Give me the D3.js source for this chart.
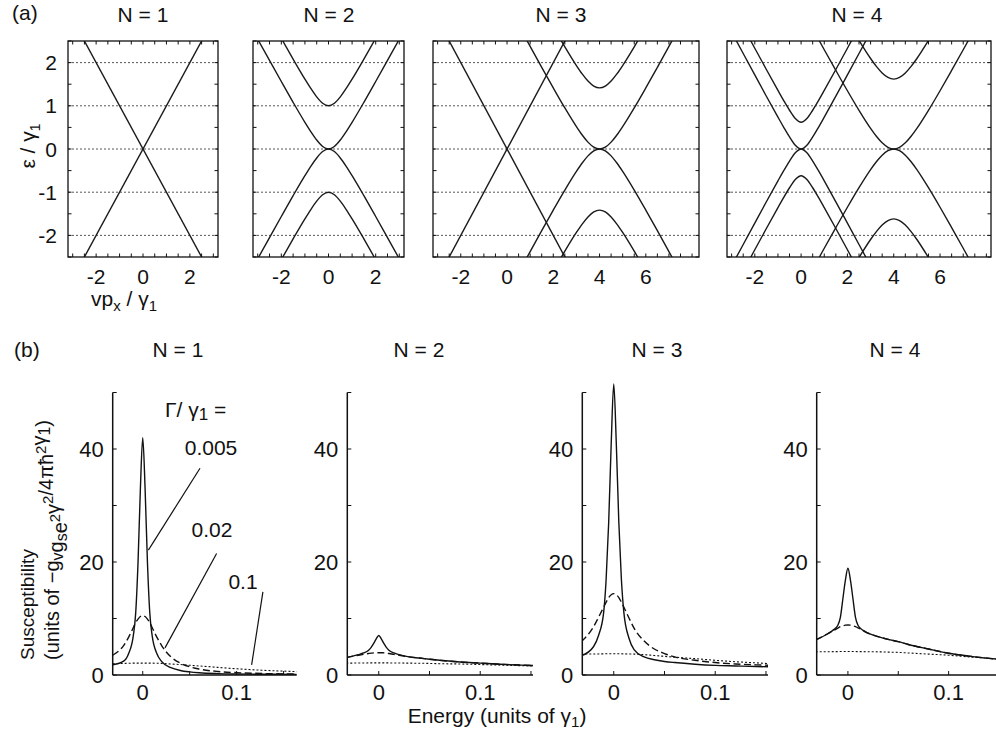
<!DOCTYPE html>
<html><head><meta charset="utf-8">
<script src="https://cdn.jsdelivr.net/npm/d3@7"></script>
<style>
body{margin:0;background:#fff}
text{font-family:"Liberation Sans",Arial,Helvetica,sans-serif;fill:#111}
</style>
</head><body>
<svg id="c" width="996" height="736"></svg>
<script>
// ---------------- DATA ----------------
const topTitles = ["N = 1", "N = 2", "N = 3", "N = 4"];
const botTitles = ["N = 1", "N = 2", "N = 3", "N = 4"];
const topYTicks = [-2, -1, 0, 1, 2];
const topXTicksSmall = [-2, 0, 2];
const topXTicksWide = [-2, 0, 2, 4, 6];
const refLevels = [-2, -1, 0, 1, 2];

// momentum offsets (vp_x/γ1) relative to the centre of each sub-band
const bandOffsets = [-3.5,-3,-2.5,-2,-1.5,-1,-0.75,-0.5,-0.25,0,0.25,0.5,0.75,1,1.5,2,2.5,3,3.5];
// monolayer-like straight bands
const monoOffsets = [-3.5, 3.5];
const monoRising  = [-3.5, 3.5];
const monoFalling = [3.5, -3.5];
// bilayer-like bands, coupling 1 (N = 2)
const bl1HighUp = [4.036,3.541,3.05,2.562,2.081,1.618,1.401,1.207,1.059,1.0,1.059,1.207,1.401,1.618,2.081,2.562,3.05,3.541,4.036];
const bl1LowUp  = [3.036,2.541,2.05,1.562,1.081,0.618,0.401,0.207,0.059,0,0.059,0.207,0.401,0.618,1.081,1.562,2.05,2.541,3.036];
const bl1LowDn  = [-3.036,-2.541,-2.05,-1.562,-1.081,-0.618,-0.401,-0.207,-0.059,0,-0.059,-0.207,-0.401,-0.618,-1.081,-1.562,-2.05,-2.541,-3.036];
const bl1HighDn = [-4.036,-3.541,-3.05,-2.562,-2.081,-1.618,-1.401,-1.207,-1.059,-1.0,-1.059,-1.207,-1.401,-1.618,-2.081,-2.562,-3.05,-3.541,-4.036];
// bilayer-like bands, coupling 1.414 (N = 3)
const bl141HighUp = [4.278,3.789,3.305,2.828,2.365,1.932,1.738,1.573,1.457,1.414,1.457,1.573,1.738,1.932,2.365,2.828,3.305,3.789,4.278];
const bl141LowUp  = [2.864,2.375,1.891,1.414,0.951,0.518,0.324,0.159,0.043,0,0.043,0.159,0.324,0.518,0.951,1.414,1.891,2.375,2.864];
const bl141LowDn  = [-2.864,-2.375,-1.891,-1.414,-0.951,-0.518,-0.324,-0.159,-0.043,0,-0.043,-0.159,-0.324,-0.518,-0.951,-1.414,-1.891,-2.375,-2.864];
const bl141HighDn = [-4.278,-3.789,-3.305,-2.828,-2.365,-1.932,-1.738,-1.573,-1.457,-1.414,-1.457,-1.573,-1.738,-1.932,-2.365,-2.828,-3.305,-3.789,-4.278];
// bilayer-like bands, coupling 0.618 (N = 4)
const bl062HighUp = [3.823,3.325,2.828,2.333,1.840,1.356,1.120,0.897,0.706,0.618,0.706,0.897,1.120,1.356,1.840,2.333,2.828,3.325,3.823];
const bl062LowUp  = [3.205,2.707,2.210,1.715,1.222,0.738,0.502,0.279,0.088,0,0.088,0.279,0.502,0.738,1.222,1.715,2.210,2.707,3.205];
const bl062LowDn  = [-3.205,-2.707,-2.210,-1.715,-1.222,-0.738,-0.502,-0.279,-0.088,0,-0.088,-0.279,-0.502,-0.738,-1.222,-1.715,-2.210,-2.707,-3.205];
const bl062HighDn = [-3.823,-3.325,-2.828,-2.333,-1.840,-1.356,-1.120,-0.897,-0.706,-0.618,-0.706,-0.897,-1.120,-1.356,-1.840,-2.333,-2.828,-3.325,-3.823];
// bilayer-like bands, coupling 1.618 (N = 4)
const bl162HighUp = [4.401,3.916,3.437,2.966,2.513,2.095,1.912,1.760,1.656,1.618,1.656,1.760,1.912,2.095,2.513,2.966,3.437,3.916,4.401];
const bl162LowUp  = [2.783,2.298,1.819,1.348,0.895,0.477,0.294,0.142,0.038,0,0.038,0.142,0.294,0.477,0.895,1.348,1.819,2.298,2.783];
const bl162LowDn  = [-2.783,-2.298,-1.819,-1.348,-0.895,-0.477,-0.294,-0.142,-0.038,0,-0.038,-0.142,-0.294,-0.477,-0.895,-1.348,-1.819,-2.298,-2.783];
const bl162HighDn = [-4.401,-3.916,-3.437,-2.966,-2.513,-2.095,-1.912,-1.760,-1.656,-1.618,-1.656,-1.760,-1.912,-2.095,-2.513,-2.966,-3.437,-3.916,-4.401];

// which bands are in which panel, with the momentum centre of each group
const bandsN1 = [{c:0, p:monoOffsets, e:[monoRising, monoFalling]}];
const bandsN2 = [{c:0, p:bandOffsets, e:[bl1HighUp, bl1LowUp, bl1LowDn, bl1HighDn]}];
const bandsN3 = [{c:0, p:monoOffsets, e:[monoRising, monoFalling]},
                 {c:4, p:bandOffsets, e:[bl141HighUp, bl141LowUp, bl141LowDn, bl141HighDn]}];
const bandsN4 = [{c:0, p:bandOffsets, e:[bl062HighUp, bl062LowUp, bl062LowDn, bl062HighDn]},
                 {c:4, p:bandOffsets, e:[bl162HighUp, bl162LowUp, bl162LowDn, bl162HighDn]}];

// susceptibility vs energy (units of γ1)
const energy = [-0.032,-0.02,-0.015,-0.01,-0.0075,-0.005,-0.0025,0,0.0025,0.005,0.0075,0.01,0.015,0.02,0.03,0.04,0.05,0.06,0.08,0.1,0.12,0.14,0.164];
const gammaLabels = ["0.005", "0.02", "0.1"];
const chiN1_005 = [1.8,2.5,3.8,7,11,20,33,42,33,20,11,7,3.8,2.4,1.3,0.8,0.55,0.4,0.25,0.18,0.14,0.12,0.1];
const chiN1_02  = [3.5,5.3,6.7,8.4,9.3,9.9,10.35,10.5,10.35,9.9,9.3,8.4,6.7,5.25,3.2,2.1,1.45,1.05,0.62,0.42,0.3,0.22,0.16];
const chiN1_1   = [2.0,2.05,2.08,2.1,2.1,2.1,2.1,2.1,2.1,2.1,2.1,2.1,2.08,2.05,1.95,1.85,1.72,1.6,1.35,1.1,0.9,0.75,0.6];
const chiN2_005 = [3.1,3.6,3.9,4.4,4.9,5.6,6.4,7.0,6.4,5.6,4.9,4.4,3.9,3.6,3.2,3.0,2.8,2.6,2.3,2.1,1.9,1.75,1.6];
const chiN2_02  = [3.1,3.5,3.65,3.8,3.87,3.92,3.95,3.95,3.95,3.92,3.87,3.8,3.65,3.5,3.2,3.0,2.8,2.6,2.3,2.1,1.9,1.75,1.6];
const chiN2_1   = [2.1,2.12,2.13,2.14,2.15,2.15,2.15,2.15,2.15,2.15,2.15,2.14,2.13,2.12,2.1,2.08,2.05,2.0,1.95,1.85,1.75,1.65,1.55];
const chiN3_005 = [3.4,5.0,7.0,11,17,27,41,51.5,41,27,17,11,6.5,4.5,3.2,2.7,2.4,2.2,1.9,1.7,1.6,1.5,1.4];
const chiN3_02  = [5.9,8.5,10.2,12,12.9,13.7,14.2,14.4,14.2,13.7,12.9,12,10.1,8.3,6.0,4.6,3.8,3.2,2.6,2.2,1.95,1.8,1.65];
const chiN3_1   = [3.7,3.72,3.73,3.74,3.75,3.75,3.75,3.75,3.75,3.75,3.75,3.74,3.72,3.7,3.6,3.45,3.3,3.15,2.9,2.6,2.35,2.15,1.9];
const chiN4_005 = [6.2,7.3,7.9,8.8,10.2,13.5,16.8,18.9,16.8,13.5,10.2,8.8,7.9,7.4,6.8,6.3,5.9,5.4,4.6,3.85,3.35,2.95,2.6];
const chiN4_02  = [6.2,7.3,7.8,8.3,8.55,8.7,8.82,8.85,8.82,8.7,8.55,8.35,7.9,7.4,6.8,6.3,5.9,5.4,4.6,3.85,3.35,2.95,2.6];
const chiN4_1   = [4.1,4.12,4.13,4.14,4.15,4.15,4.15,4.15,4.15,4.15,4.15,4.14,4.13,4.12,4.1,4.05,4.0,3.9,3.7,3.5,3.2,2.95,2.6];
const botYTicks = [0, 20, 40];
const botXTicks = [0, 0.1];

// ---------------- LAYOUT ----------------
const svg = d3.select("#c");
const FS = 21;
const topY0 = 41, topY1 = 257;
const topPanels = [
  {x0:68,  x1:218, d:[-3.2,3.2], ticks:topXTicksSmall, bands:bandsN1, title:topTitles[0], tx:143},
  {x0:253, x1:404, d:[-3.2,3.2], ticks:topXTicksSmall, bands:bandsN2, title:topTitles[1], tx:329},
  {x0:433, x1:699, d:[-3.2,8.3], ticks:topXTicksWide,  bands:bandsN3, title:topTitles[2], tx:561},
  {x0:727, x1:991, d:[-3.2,8.2], ticks:topXTicksWide,  bands:bandsN4, title:topTitles[3], tx:857}
];
const yTop = d3.scaleLinear().domain([-2.5, 2.5]).range([topY1, topY0]);

const defs = svg.append("defs");
topPanels.forEach((P, i) => {
  const x = d3.scaleLinear().domain(P.d).range([P.x0, P.x1]);
  const g = svg.append("g");
  defs.append("clipPath").attr("id", "ct" + i).append("rect")
    .attr("x", P.x0).attr("y", topY0).attr("width", P.x1 - P.x0).attr("height", topY1 - topY0);
  g.selectAll(".lev").data(refLevels).enter().append("line")
    .attr("x1", P.x0).attr("x2", P.x1).attr("y1", d => yTop(d)).attr("y2", d => yTop(d))
    .attr("stroke", "#444").attr("stroke-width", 0.9).attr("stroke-dasharray", "2,2");
  const cg = g.append("g").attr("clip-path", `url(#ct${i})`);
  P.bands.forEach(B => {
    B.e.forEach(arr => {
      const pts = B.p.map((p, k) => [B.c + p, arr[k]]);
      cg.append("path").datum(pts)
        .attr("d", d3.line().x(d => x(d[0])).y(d => yTop(d[1])).curve(d3.curveMonotoneX))
        .attr("fill", "none").attr("stroke", "#1a1a1a").attr("stroke-width", 1.4);
    });
  });
  g.append("rect").attr("x", P.x0).attr("y", topY0).attr("width", P.x1 - P.x0).attr("height", topY1 - topY0)
    .attr("fill", "none").attr("stroke", "#111").attr("stroke-width", 1.3);
  const xt = d3.range(Math.ceil(P.d[0] * 2) / 2, P.d[1] + 1e-9, 0.5);
  const yt = d3.range(-2.5, 2.5 + 1e-9, 0.5);
  xt.forEach(v => {
    g.append("line").attr("x1", x(v)).attr("x2", x(v)).attr("y1", topY1).attr("y2", topY1 - 3.5).attr("stroke", "#111");
    g.append("line").attr("x1", x(v)).attr("x2", x(v)).attr("y1", topY0).attr("y2", topY0 + 3.5).attr("stroke", "#111");
  });
  yt.forEach(v => {
    g.append("line").attr("x1", P.x0).attr("x2", P.x0 + 3.5).attr("y1", yTop(v)).attr("y2", yTop(v)).attr("stroke", "#111");
    g.append("line").attr("x1", P.x1).attr("x2", P.x1 - 3.5).attr("y1", yTop(v)).attr("y2", yTop(v)).attr("stroke", "#111");
  });
  g.selectAll(".xl").data(P.ticks).enter().append("text")
    .attr("x", d => x(d)).attr("y", 284).attr("text-anchor", "middle").attr("font-size", FS)
    .text(d => d < 0 ? "-" + Math.abs(d) : d);
  g.append("text").attr("x", P.tx).attr("y", 22).attr("text-anchor", "middle").attr("font-size", FS).text(P.title);
  if (i === 0) {
    g.selectAll(".yl").data(topYTicks).enter().append("text")
      .attr("x", 57).attr("y", d => yTop(d) + 7.5).attr("text-anchor", "end").attr("font-size", FS)
      .text(d => d < 0 ? "-" + Math.abs(d) : d);
  }
});
svg.append("text").attr("x", 12).attr("y", 20).attr("font-size", FS).text("(a)");
const yt1 = svg.append("text").attr("transform", "translate(35,146) rotate(-90)").attr("text-anchor", "middle").attr("font-size", FS);
yt1.append("tspan").text("ε / γ");
yt1.append("tspan").attr("font-size", 14).attr("dy", 5).text("1");
const xt1 = svg.append("text").attr("x", 124).attr("y", 306).attr("text-anchor", "middle").attr("font-size", FS);
xt1.append("tspan").text("vp");
xt1.append("tspan").attr("font-size", 15).attr("dy", 5).text("x");
xt1.append("tspan").attr("dy", -5).text(" / γ");
xt1.append("tspan").attr("font-size", 15).attr("dy", 5).text("1");

// ---------------- BOTTOM ----------------
const botY0 = 675;
const yBot = d3.scaleLinear().domain([0, 50]).range([botY0, 392.5]);
const botPanels = [
  {ax:112.7, x1:296.7, d:[-0.032,0.164], s:[chiN1_005, chiN1_02, chiN1_1], tx:178},
  {ax:347.3, x1:533,   d:[-0.031,0.152], s:[chiN2_005, chiN2_02, chiN2_1], tx:419},
  {ax:582.3, x1:768,   d:[-0.031,0.152], s:[chiN3_005, chiN3_02, chiN3_1], tx:657},
  {ax:816.7, x1:1001,  d:[-0.031,0.152], s:[chiN4_005, chiN4_02, chiN4_1], tx:895}
];
const dashes = [null, "7,3.5", "2,2"];
let xb1 = null;
botPanels.forEach((P, i) => {
  const x = d3.scaleLinear().domain(P.d).range([P.ax, P.x1]);
  if (i === 0) xb1 = x;
  const g = svg.append("g");
  defs.append("clipPath").attr("id", "cb" + i).append("rect")
    .attr("x", P.ax).attr("y", 0).attr("width", P.x1 - P.ax).attr("height", botY0);
  const cg = g.append("g").attr("clip-path", `url(#cb${i})`);
  P.s.forEach((arr, k) => {
    const pts = energy.map((e, j) => [e, arr[j]]);
    cg.append("path").datum(pts)
      .attr("d", d3.line().x(d => x(d[0])).y(d => yBot(d[1])).curve(d3.curveMonotoneX))
      .attr("fill", "none").attr("stroke", "#111").attr("stroke-width", k === 2 ? 1.1 : 1.4)
      .attr("stroke-dasharray", dashes[k]);
  });
  g.append("line").attr("x1", P.ax).attr("x2", P.ax).attr("y1", yBot(50)).attr("y2", botY0).attr("stroke", "#111").attr("stroke-width", 1.5);
  g.append("line").attr("x1", P.ax).attr("x2", P.x1).attr("y1", botY0).attr("y2", botY0).attr("stroke", "#111").attr("stroke-width", 1.5);
  d3.range(0, 50.1, 10).forEach(v => {
    g.append("line").attr("x1", P.ax).attr("x2", P.ax + 4).attr("y1", yBot(v)).attr("y2", yBot(v)).attr("stroke", "#111");
  });
  [0, 0.05, 0.1, 0.15].forEach(v => {
    g.append("line").attr("x1", x(v)).attr("x2", x(v)).attr("y1", botY0).attr("y2", botY0 - 4).attr("stroke", "#111");
  });
  g.selectAll(".yl").data(botYTicks).enter().append("text")
    .attr("x", P.ax - 9).attr("y", d => yBot(d) + 8).attr("text-anchor", "end").attr("font-size", 22).text(d => d);
  g.selectAll(".xl").data(botXTicks).enter().append("text")
    .attr("x", d => x(d)).attr("y", 700).attr("text-anchor", "middle").attr("font-size", 22).text(d => d);
  g.append("text").attr("x", P.tx).attr("y", 357).attr("text-anchor", "middle").attr("font-size", FS).text(botTitles[i]);
});
svg.append("text").attr("x", 14).attr("y", 357).attr("font-size", FS).text("(b)");
const et = svg.append("text").attr("x", 497).attr("y", 723).attr("text-anchor", "middle").attr("font-size", FS);
et.append("tspan").text("Energy (units of γ");
et.append("tspan").attr("font-size", 15).attr("dy", 4).text("1");
et.append("tspan").attr("dy", -4).text(")");
svg.append("text").attr("transform", "translate(34,660) rotate(-90)").attr("font-size", 19).text("Susceptibility");
const ut = svg.append("text").attr("transform", "translate(59,660) rotate(-90)").attr("font-size", 20);
const sub = (t) => { ut.append("tspan").attr("font-size", 16).attr("dy", 4).text(t); ut.append("tspan").attr("dy", -4).text(""); };
const sup = (t) => { ut.append("tspan").attr("font-size", 15).attr("dy", -7).text(t); ut.append("tspan").attr("dy", 7).text(""); };
ut.append("tspan").text("(units of −g"); sub("v");
ut.append("tspan").text("g"); sub("s");
ut.append("tspan").text("e"); sup("2");
ut.append("tspan").text("γ"); sup("2");
ut.append("tspan").text("/4πħ"); sup("2");
ut.append("tspan").text("γ"); sub("1");
ut.append("tspan").text(")");

const gl = svg.append("text").attr("x", 165).attr("y", 417).attr("font-size", FS);
gl.append("tspan").text("Γ/ γ");
gl.append("tspan").attr("font-size", 17).attr("dy", 3).text("1");
gl.append("tspan").attr("dy", -3).text(" =");
const annPos = [[211, 455], [212, 537], [243, 589]];
const leader = [[[0.006, 22.1], [0.061, 36.6]], [[0.0237, 4.8], [0.0787, 21.5]], [[0.116, 1.8], [0.128, 14.7]]];
gammaLabels.forEach((t, k) => {
  svg.append("text").attr("x", annPos[k][0]).attr("y", annPos[k][1]).attr("text-anchor", "middle").attr("font-size", FS).text(t);
  svg.append("line").attr("x1", xb1(leader[k][0][0])).attr("y1", yBot(leader[k][0][1]))
    .attr("x2", xb1(leader[k][1][0])).attr("y2", yBot(leader[k][1][1]))
    .attr("stroke", "#111").attr("stroke-width", 1.2);
});
</script>
</body></html>
